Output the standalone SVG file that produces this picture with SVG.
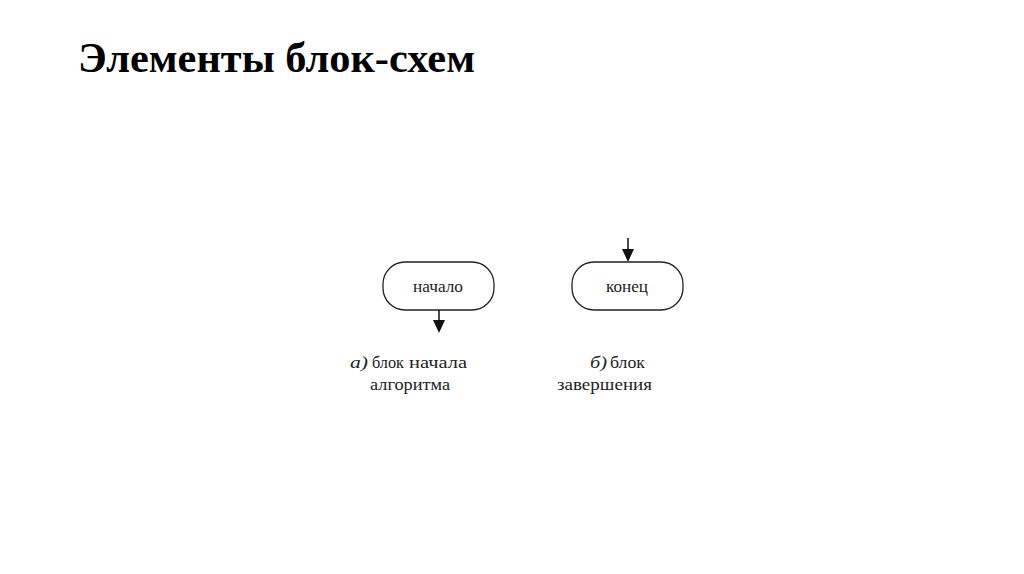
<svg xmlns="http://www.w3.org/2000/svg" width="1024" height="574" viewBox="0 0 1024 574">
<style>
.title{font-family:"Liberation Serif","Times New Roman",serif;font-weight:bold;font-size:43px;fill:#000}
.node{fill:#fff;stroke:#222;stroke-width:1.3}
.lbl{font-family:"Liberation Serif","Times New Roman",serif;font-size:17px;fill:#222}
.cap{font-family:"Liberation Serif","Times New Roman",serif;font-size:17px;fill:#222}
.it{font-style:italic}
.conn{stroke:#111;stroke-width:1.5;fill:none}
</style>
<rect width="1024" height="574" fill="#fff"/>
<text class="title" x="78" y="72" textLength="397" lengthAdjust="spacingAndGlyphs">Элементы блок-схем</text>
<g id="node-start">
<rect class="node" x="383" y="262" width="111" height="48" rx="22" ry="22"/>
<text class="lbl" x="413" y="292" textLength="50" lengthAdjust="spacingAndGlyphs">начало</text>
</g>
<g id="node-end">
<rect class="node" x="572" y="262" width="111" height="48" rx="22" ry="22"/>
<text class="lbl" x="606" y="292" textLength="42" lengthAdjust="spacingAndGlyphs">конец</text>
</g>
<g id="connectors">
<line class="conn" x1="439" y1="310" x2="439" y2="320"/>
<polygon points="433,320 445,320 439,333" fill="#111"/>
<line class="conn" x1="628" y1="238" x2="628" y2="250"/>
<polygon points="622,249 634,249 628,262" fill="#111"/>
</g>
<g id="captions">
<text class="cap it" x="350" y="368" textLength="18" lengthAdjust="spacingAndGlyphs">а)</text>
<text class="cap" x="372" y="368" textLength="32" lengthAdjust="spacingAndGlyphs">блок</text>
<text class="cap" x="409" y="368" textLength="58" lengthAdjust="spacingAndGlyphs">начала</text>
<text class="cap" x="370" y="390" textLength="80" lengthAdjust="spacingAndGlyphs">алгоритма</text>
<text class="cap it" x="590" y="368" textLength="17" lengthAdjust="spacingAndGlyphs">б)</text>
<text class="cap" x="610" y="368" textLength="35" lengthAdjust="spacingAndGlyphs">блок</text>
<text class="cap" x="557" y="390" textLength="95" lengthAdjust="spacingAndGlyphs">завершения</text>
</g>
</svg>
